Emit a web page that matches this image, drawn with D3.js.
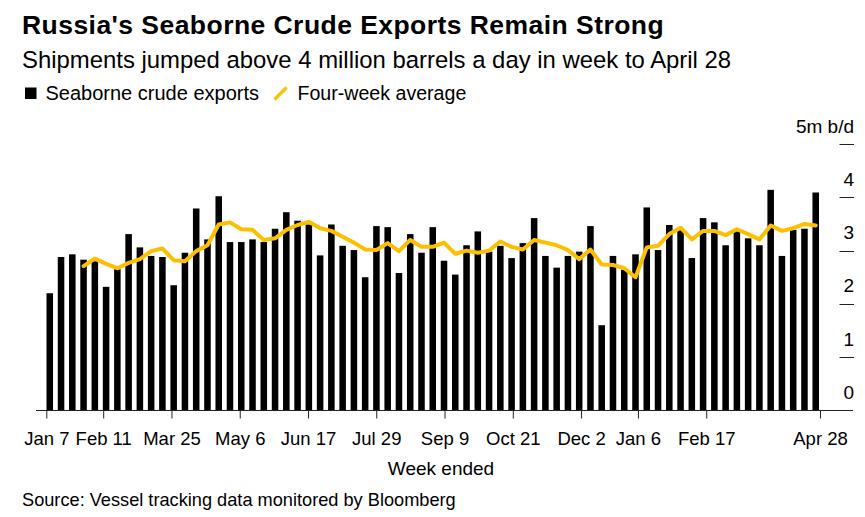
<!DOCTYPE html>
<html>
<head>
<meta charset="utf-8">
<script src="https://cdn.jsdelivr.net/npm/d3@7"></script>
<style>
  html, body { margin: 0; padding: 0; background: #fff; }
  svg { display: block; font-family: "Liberation Sans", Arial, Helvetica, sans-serif; }
</style>
</head>
<body>
<svg id="chart" width="865" height="517"></svg>
<script>
// ---- Data ----
const weeks = [
  "2018-01-07","2018-01-14","2018-01-21","2018-01-28","2018-02-04","2018-02-11","2018-02-18","2018-02-25",
  "2018-03-04","2018-03-11","2018-03-18","2018-03-25","2018-04-01","2018-04-08","2018-04-15","2018-04-22",
  "2018-04-29","2018-05-06","2018-05-13","2018-05-20","2018-05-27","2018-06-03","2018-06-10","2018-06-17",
  "2018-06-24","2018-07-01","2018-07-08","2018-07-15","2018-07-22","2018-07-29","2018-08-05","2018-08-12",
  "2018-08-19","2018-08-26","2018-09-02","2018-09-09","2018-09-16","2018-09-23","2018-09-30","2018-10-07",
  "2018-10-14","2018-10-21","2018-10-28","2018-11-04","2018-11-11","2018-11-18","2018-11-25","2018-12-02",
  "2018-12-09","2018-12-16","2018-12-23","2018-12-30","2019-01-06","2019-01-13","2019-01-20","2019-01-27",
  "2019-02-03","2019-02-10","2019-02-17","2019-02-24","2019-03-03","2019-03-10","2019-03-17","2019-03-24",
  "2019-03-31","2019-04-07","2019-04-14","2019-04-21","2019-04-28"
];

const exportsMbd = [
  2.20, 2.88, 2.93, 2.83, 2.80, 2.32, 2.65, 3.31, 3.06, 2.90,
  2.88, 2.35, 2.96, 3.79, 3.21, 4.02, 3.16, 3.16, 3.21, 3.16,
  3.41, 3.72, 3.56, 3.49, 2.91, 3.49, 3.09, 3.01, 2.50, 3.46,
  3.44, 2.58, 3.31, 2.96, 3.44, 2.81, 2.55, 3.10, 3.36, 2.98,
  3.09, 2.86, 3.14, 3.61, 2.90, 2.68, 2.90, 2.98, 3.46, 1.60,
  2.90, 2.64, 2.93, 3.81, 3.01, 3.48, 3.42, 2.86, 3.61, 3.53,
  3.10, 3.36, 3.23, 3.10, 4.14, 2.90, 3.39, 3.41, 4.09
];

// four-week average (null where not available)
const fourWeekAvg = [
  null, null, null, 2.71, 2.85, 2.75, 2.67, 2.77, 2.84, 2.99,
  3.04, 2.82, 2.80, 2.99, 3.10, 3.49, 3.53, 3.40, 3.39, 3.20,
  3.23, 3.39, 3.48, 3.54, 3.42, 3.37, 3.26, 3.15, 3.02, 3.01,
  3.14, 2.99, 3.20, 3.07, 3.07, 3.15, 2.94, 3.00, 2.96, 3.00,
  3.17, 3.07, 3.02, 3.20, 3.15, 3.10, 3.01, 2.84, 3.02, 2.74,
  2.73, 2.67, 2.50, 3.06, 3.09, 3.31, 3.43, 3.21, 3.37, 3.37,
  3.29, 3.40, 3.31, 3.21, 3.47, 3.37, 3.42, 3.50, 3.47
];

const xTickDates = ["2018-01-07","2018-02-11","2018-03-25","2018-05-06","2018-06-17","2018-07-29",
                    "2018-09-09","2018-10-21","2018-12-02","2019-01-06","2019-02-17","2019-04-28"];
const xTickLabels = ["Jan 7","Feb 11","Mar 25","May 6","Jun 17","Jul 29",
                     "Sep 9","Oct 21","Dec 2","Jan 6","Feb 17","Apr 28"];
const yTicks = [0, 1, 2, 3, 4, 5];
const yTickLabels = ["0", "1", "2", "3", "4", "5m b/d"];

// ---- Drawing ----
const svg = d3.select("#chart");
const parse = d3.utcParse("%Y-%m-%d");
const YELLOW = "#fdbf00";

const xBand = d3.scaleBand().domain(weeks).range([46.5, 819]).paddingInner(0.42).paddingOuter(0);
const xTime = d3.scaleUtc().domain([parse(weeks[0]), parse(weeks[weeks.length - 1])]).range([46.3, 820]);
const y = d3.scaleLinear().domain([0, 5]).range([410.5, 144]);

// Title, subtitle
svg.append("text").attr("x", 22).attr("y", 34)
  .attr("font-size", 26.5).attr("font-weight", "bold").attr("fill", "#000")
  .attr("letter-spacing", 0.45)
  .text("Russia's Seaborne Crude Exports Remain Strong");
svg.append("text").attr("x", 22).attr("y", 68)
  .attr("font-size", 23.9).attr("fill", "#000")
  .text("Shipments jumped above 4 million barrels a day in week to April 28");

// Legend
svg.append("rect").attr("x", 25).attr("y", 87.5).attr("width", 11.5).attr("height", 11.5).attr("fill", "#000");
svg.append("text").attr("x", 45.5).attr("y", 100).attr("font-size", 20).attr("fill", "#000")
  .text("Seaborne crude exports");
svg.append("line").attr("x1", 274.5).attr("y1", 99.5).attr("x2", 286.5).attr("y2", 87.5)
  .attr("stroke", YELLOW).attr("stroke-width", 3.2);
svg.append("text").attr("x", 297.5).attr("y", 100).attr("font-size", 19.6).attr("fill", "#000")
  .text("Four-week average");

// Bars
svg.append("g").selectAll("rect").data(weeks).join("rect")
  .attr("x", d => xBand(d))
  .attr("width", xBand.bandwidth())
  .attr("y", (d, i) => y(exportsMbd[i]))
  .attr("height", (d, i) => y(0) - y(exportsMbd[i]))
  .attr("fill", "#000");

// Four-week average line
const lineGen = d3.line()
  .defined(d => d.v != null)
  .x(d => xBand(d.w) + xBand.bandwidth() / 2)
  .y(d => y(d.v));
svg.append("path")
  .datum(weeks.map((w, i) => ({ w, v: fourWeekAvg[i] })))
  .attr("d", lineGen)
  .attr("fill", "none")
  .attr("stroke", YELLOW)
  .attr("stroke-width", 4)
  .attr("stroke-linejoin", "round")
  .attr("stroke-linecap", "round");

// Right axis ticks and labels
const yg = svg.append("g");
yg.selectAll("line").data(yTicks.filter(t => t > 0)).join("line")
  .attr("x1", 839.5).attr("x2", 854)
  .attr("y1", d => Math.round(y(d)) + 0.5).attr("y2", d => Math.round(y(d)) + 0.5)
  .attr("stroke", "#222").attr("stroke-width", 1);
yg.selectAll("text").data(yTicks).join("text")
  .attr("x", 854).attr("y", d => y(d) - 11.5)
  .attr("text-anchor", "end").attr("font-size", 19).attr("fill", "#000")
  .text((d, i) => yTickLabels[i]);

// Baseline
svg.append("line").attr("x1", 36).attr("x2", 853)
  .attr("y1", 410.5).attr("y2", 410.5).attr("stroke", "#222").attr("stroke-width", 1);

// Bottom axis
const xAxis = d3.axisBottom(xTime)
  .tickValues(xTickDates.map(parse))
  .tickSize(8)
  .tickPadding(18)
  .tickFormat((d, i) => xTickLabels[i]);
const xg = svg.append("g").attr("transform", "translate(0,410.5)").call(xAxis);
xg.select(".domain").remove();
xg.selectAll(".tick line").attr("stroke", "#222");
xg.selectAll(".tick text").attr("font-size", 18.5).attr("fill", "#000")
  .attr("font-family", "\"Liberation Sans\", Arial, sans-serif").attr("dy", null).attr("y", 34.5);

// Axis title and source
svg.append("text").attr("x", 441).attr("y", 475).attr("text-anchor", "middle")
  .attr("font-size", 19).attr("fill", "#000").text("Week ended");
svg.append("text").attr("x", 22).attr("y", 506)
  .attr("font-size", 18.2).attr("fill", "#000")
  .text("Source: Vessel tracking data monitored by Bloomberg");
</script>
</body>
</html>
